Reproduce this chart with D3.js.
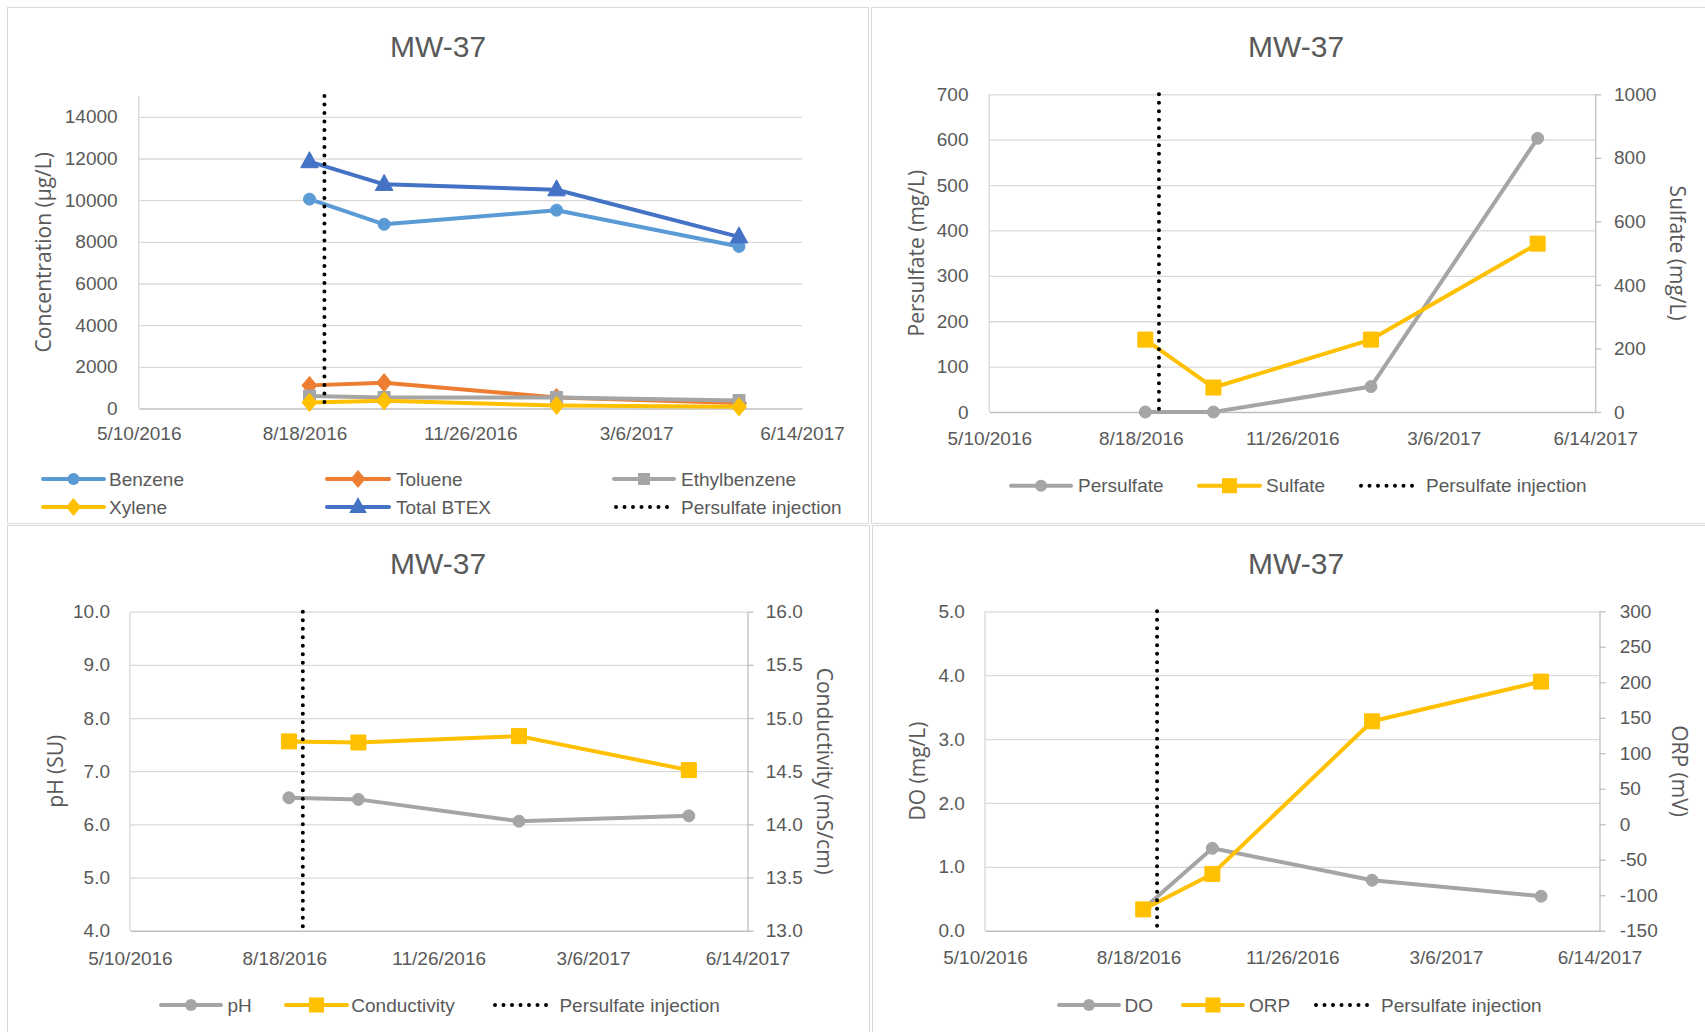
<!DOCTYPE html>
<html>
<head>
<meta charset="utf-8">
<script src="https://cdn.jsdelivr.net/npm/d3@7"></script>
<style>
  html, body { margin: 0; padding: 0; background: #fff; }
  svg { display: block; }
</style>
</head>
<body>
<svg id="chart" width="1705" height="1032"></svg>
<script>
// ---------------- DATA ----------------
const sampleDates = ["8/21/2016", "10/5/2016", "1/17/2017", "5/7/2017"];
const injectionDate = "8/30/2016";
const xDomain = ["5/10/2016", "6/14/2017"];
const xTickLabels = ["5/10/2016", "8/18/2016", "11/26/2016", "3/6/2017", "6/14/2017"];

const benzene = [10050, 8840, 9520, 7780];
const toluene = [1110, 1240, 530, 260];
const ethylbenzene = [600, 530, 530, 380];
const xylene = [290, 370, 145, 80];
const totalBTEX = [11850, 10760, 10500, 8240];

const persulfate = [0, 0, 56, 603];
const sulfate = [228, 77, 228, 530];

const pH = [6.50, 6.47, 6.06, 6.16];
const conductivity = [14.78, 14.77, 14.83, 14.51];

const dissolvedOxygen = [0.34, 1.29, 0.79, 0.54];
const orp = [-120, -70, 145, 201];

const concTicks = [0, 2000, 4000, 6000, 8000, 10000, 12000, 14000];
const persulfateTicks = [0, 100, 200, 300, 400, 500, 600, 700];
const sulfateTicks = [0, 200, 400, 600, 800, 1000];
const pHTicks = [4, 5, 6, 7, 8, 9, 10];
const condTicks = [13, 13.5, 14, 14.5, 15, 15.5, 16];
const doTicks = [0, 1, 2, 3, 4, 5];
const orpTicks = [-150, -100, -50, 0, 50, 100, 150, 200, 250, 300];

// ---------------- STYLE ----------------
const TXT = "#595959";
const GRID = "#D9D9D9";
const AXIS = "#BFBFBF";
const C_BENZ = "#5B9BD5", C_TOL = "#ED7D31", C_GRAY = "#A5A5A5", C_YEL = "#FFC000", C_BTEX = "#4472C4";
const FONT = "'Liberation Sans', Arial, sans-serif";
const TITLEFONT = "'Open Sans', 'DejaVu Sans', sans-serif";

const locale = d3.formatLocale({decimal: ".", thousands: ",", grouping: [3], currency: ["$", ""], minus: "-"});
const fmt1 = locale.format(".1f");
const fmt0 = locale.format("d");

const parse = d3.utcParse("%m/%d/%Y");
const dates = sampleDates.map(parse);
const injDate = parse(injectionDate);

const svg = d3.select("#chart");

// panel frames
const panels = [
  {x: 7.5, y: 7.5, w: 861, h: 516},
  {x: 871.5, y: 7.5, w: 850, h: 516},
  {x: 7.5, y: 525.5, w: 862, h: 520},
  {x: 872.5, y: 525.5, w: 850, h: 520}
];
svg.selectAll("rect.panel").data(panels).join("rect")
  .attr("class", "panel")
  .attr("x", d => d.x).attr("y", d => d.y).attr("width", d => d.w).attr("height", d => d.h)
  .attr("fill", "#fff").attr("stroke", GRID).attr("stroke-width", 1);

// marker path generators
function markerPath(type, size) {
  const s = size;
  if (type === "circle") return d3.symbol(d3.symbolCircle, s * s * Math.PI / 4)();
  if (type === "square") return `M${-s/2},${-s/2}h${s}v${s}h${-s}z`;
  if (type === "diamond") return `M0,${-s*0.6}L${s*0.5},0L0,${s*0.6}L${-s*0.5},0z`;
  if (type === "triangle") return `M0,${-s*0.62}L${s*0.55},${s*0.38}L${-s*0.55},${s*0.38}z`;
  return "";
}

function drawChart(cfg) {
  const g = svg.append("g");
  const p = cfg.plot;
  const x = d3.scaleUtc().domain(xDomain.map(parse)).range([p.l, p.r]);
  const yL = d3.scaleLinear().domain(cfg.yL.domain).range([p.b, p.t]);
  const yR = cfg.yR ? d3.scaleLinear().domain(cfg.yR.domain).range([p.b, p.t]) : null;

  // gridlines
  g.append("g")
    .attr("transform", `translate(${p.l},0)`)
    .call(d3.axisLeft(yL).tickValues(cfg.yL.ticks.filter(v => v !== cfg.yL.domain[0])).tickSize(-(p.r - p.l)).tickFormat(""))
    .call(a => a.select(".domain").remove())
    .call(a => a.selectAll("line").attr("stroke", GRID).attr("stroke-width", 1.3));

  // left axis line
  g.append("line").attr("x1", p.l).attr("x2", p.l).attr("y1", p.t).attr("y2", p.b)
    .attr("stroke", GRID).attr("stroke-width", 1.3);

  // left tick labels
  const la = g.append("g")
    .attr("transform", `translate(${p.l},0)`)
    .call(d3.axisLeft(yL).tickValues(cfg.yL.ticks).tickSize(0).tickPadding(p.l - cfg.yL.labelX).tickFormat(cfg.yL.format));
  la.select(".domain").remove();
  la.selectAll("text").attr("fill", TXT).style("font-family", FONT).style("font-size", "19px");

  // right axis
  if (yR) {
    const ra = g.append("g")
      .attr("transform", `translate(${p.r},0)`)
      .call(d3.axisRight(yR).tickValues(cfg.yR.ticks).tickSizeInner(6).tickSizeOuter(0)
        .tickPadding(cfg.yR.labelX - p.r - 6).tickFormat(cfg.yR.format));
    ra.select(".domain").attr("stroke", AXIS).attr("stroke-width", 1.3);
    ra.selectAll("line").attr("stroke", AXIS).attr("stroke-width", 1.3);
    ra.selectAll("text").attr("fill", TXT).style("font-family", FONT).style("font-size", "19px");
  }

  // bottom axis
  const ba = g.append("g")
    .attr("transform", `translate(0,${p.b})`)
    .call(d3.axisBottom(x).tickValues(xTickLabels.map(parse)).tickSize(0)
      .tickPadding(cfg.xLabelY - p.b).tickFormat((d, i) => xTickLabels[i]));
  ba.select(".domain").attr("stroke", AXIS).attr("stroke-width", 1.5);
  ba.selectAll("text").attr("dy", "0.35em").attr("fill", TXT).style("font-family", FONT).style("font-size", "19px");

  // series
  cfg.series.forEach(s => {
    const y = s.axis === "R" ? yR : yL;
    const pts = s.values.map((v, i) => [x(dates[i]), y(v)]);
    g.append("path").attr("d", d3.line()(pts)).attr("fill", "none")
      .attr("stroke", s.color).attr("stroke-width", 4).attr("stroke-linejoin", "round").attr("stroke-linecap", "round");
    g.selectAll(null).data(pts).join("path")
      .attr("transform", d => `translate(${d[0]},${d[1]})`)
      .attr("d", markerPath(s.marker, s.size))
      .attr("fill", s.color).attr("stroke", s.color).attr("stroke-width", 1);
  });

  // injection line
  g.append("line")
    .attr("x1", x(injDate)).attr("x2", x(injDate))
    .attr("y1", yL(cfg.yL.domain[1])).attr("y2", yL(cfg.yL.domain[0]))
    .attr("stroke", "#000").attr("stroke-width", 4).attr("stroke-linecap", "round")
    .attr("stroke-dasharray", "0 8.5");

  // title
  g.append("text").attr("x", cfg.title.x).attr("y", cfg.title.y).attr("dy", "0.35em")
    .attr("text-anchor", "middle").attr("fill", TXT)
    .style("font-family", FONT).style("font-size", "30px").text("MW-37");

  // axis titles
  const mid = (p.t + p.b) / 2;
  g.append("text").attr("transform", `translate(${cfg.yL.titleX},${mid}) rotate(-90)`)
    .attr("dy", "0.35em").attr("text-anchor", "middle").attr("fill", TXT)
    .style("font-family", TITLEFONT).style("font-size", "21px").text(cfg.yL.title);
  if (yR) {
    g.append("text").attr("transform", `translate(${cfg.yR.titleX},${mid}) rotate(90)`)
      .attr("dy", "0.35em").attr("text-anchor", "middle").attr("fill", TXT)
      .style("font-family", TITLEFONT).style("font-size", "21px").text(cfg.yR.title);
  }

  // legend
  cfg.legend.forEach(item => {
    const lg = g.append("g");
    if (item.dotted) {
      lg.append("line").attr("x1", item.x0 + 2).attr("x2", item.x1).attr("y1", item.y).attr("y2", item.y)
        .attr("stroke", "#000").attr("stroke-width", 4).attr("stroke-linecap", "round").attr("stroke-dasharray", "0 8.5");
    } else {
      lg.append("line").attr("x1", item.x0).attr("x2", item.x1).attr("y1", item.y).attr("y2", item.y)
        .attr("stroke", item.color).attr("stroke-width", 4).attr("stroke-linecap", "round");
      lg.append("path").attr("transform", `translate(${(item.x0 + item.x1) / 2},${item.y})`)
        .attr("d", markerPath(item.marker, item.size)).attr("fill", item.color);
    }
    lg.append("text").attr("x", item.tx).attr("y", item.y).attr("dy", "0.35em").attr("fill", TXT)
      .style("font-family", FONT).style("font-size", "19px").text(item.label);
  });
}

const M = {circle: 12, square: 15, diamond: 15, triangle: 16};

// Chart 1: BTEX
drawChart({
  plot: {l: 138.7, r: 802, t: 96, b: 408.5},
  title: {x: 438, y: 46.7},
  xLabelY: 433.3,
  yL: {domain: [0, 15000], ticks: concTicks, format: fmt0, labelX: 117.6, title: "Concentration (µg/L)", titleX: 44},
  series: [
    {values: benzene, color: C_BENZ, marker: "circle", size: M.circle},
    {values: toluene, color: C_TOL, marker: "diamond", size: M.diamond},
    {values: ethylbenzene, color: C_GRAY, marker: "square", size: 12},
    {values: xylene, color: C_YEL, marker: "diamond", size: M.diamond},
    {values: totalBTEX, color: C_BTEX, marker: "triangle", size: M.triangle}
  ],
  legend: [
    {label: "Benzene", color: C_BENZ, marker: "circle", size: M.circle, x0: 43, x1: 104, tx: 109, y: 479},
    {label: "Toluene", color: C_TOL, marker: "diamond", size: M.diamond, x0: 327, x1: 389, tx: 396, y: 479},
    {label: "Ethylbenzene", color: C_GRAY, marker: "square", size: 12, x0: 614, x1: 674, tx: 681, y: 479},
    {label: "Xylene", color: C_YEL, marker: "diamond", size: M.diamond, x0: 43, x1: 104, tx: 109, y: 507},
    {label: "Total BTEX", color: C_BTEX, marker: "triangle", size: M.triangle, x0: 327, x1: 389, tx: 396, y: 507},
    {label: "Persulfate injection", dotted: true, x0: 614, x1: 668, tx: 681, y: 507}
  ]
});

// Chart 2: Persulfate / Sulfate
drawChart({
  plot: {l: 989.3, r: 1595.2, t: 94.3, b: 412},
  title: {x: 1296, y: 46.7},
  xLabelY: 438,
  yL: {domain: [0, 700], ticks: persulfateTicks, format: fmt0, labelX: 968.5, title: "Persulfate (mg/L)", titleX: 917},
  yR: {domain: [0, 1000], ticks: sulfateTicks, format: fmt0, labelX: 1614, title: "Sulfate (mg/L)", titleX: 1677},
  series: [
    {values: persulfate, color: C_GRAY, marker: "circle", size: M.circle},
    {values: sulfate, color: C_YEL, marker: "square", size: M.square, axis: "R"}
  ],
  legend: [
    {label: "Persulfate", color: C_GRAY, marker: "circle", size: M.circle, x0: 1011, x1: 1071, tx: 1078, y: 485.7},
    {label: "Sulfate", color: C_YEL, marker: "square", size: M.square, x0: 1199, x1: 1260, tx: 1266, y: 485.7},
    {label: "Persulfate injection", dotted: true, x0: 1359, x1: 1413, tx: 1426, y: 485.7}
  ]
});

// Chart 3: pH / Conductivity
drawChart({
  plot: {l: 129.9, r: 747.5, t: 611.7, b: 930.7},
  title: {x: 438, y: 563.3},
  xLabelY: 958.3,
  yL: {domain: [4, 10], ticks: pHTicks, format: fmt1, labelX: 110, title: "pH (SU)", titleX: 55.5},
  yR: {domain: [13, 16], ticks: condTicks, format: fmt1, labelX: 765.8, title: "Conductivity (mS/cm)", titleX: 824},
  series: [
    {values: pH, color: C_GRAY, marker: "circle", size: M.circle},
    {values: conductivity, color: C_YEL, marker: "square", size: M.square, axis: "R"}
  ],
  legend: [
    {label: "pH", color: C_GRAY, marker: "circle", size: M.circle, x0: 161, x1: 221, tx: 227.5, y: 1005},
    {label: "Conductivity", color: C_YEL, marker: "square", size: M.square, x0: 286, x1: 347, tx: 351.3, y: 1005},
    {label: "Persulfate injection", dotted: true, x0: 493, x1: 547, tx: 559.4, y: 1005}
  ]
});

// Chart 4: DO / ORP
drawChart({
  plot: {l: 985, r: 1599.5, t: 611.3, b: 930.7},
  title: {x: 1296, y: 563.3},
  xLabelY: 957.3,
  yL: {domain: [0, 5], ticks: doTicks, format: fmt1, labelX: 964.8, title: "DO (mg/L)", titleX: 918},
  yR: {domain: [-150, 300], ticks: orpTicks, format: fmt0, labelX: 1619.7, title: "ORP (mV)", titleX: 1679},
  series: [
    {values: dissolvedOxygen, color: C_GRAY, marker: "circle", size: M.circle},
    {values: orp, color: C_YEL, marker: "square", size: M.square, axis: "R"}
  ],
  legend: [
    {label: "DO", color: C_GRAY, marker: "circle", size: M.circle, x0: 1059, x1: 1119, tx: 1124.5, y: 1005},
    {label: "ORP", color: C_YEL, marker: "square", size: M.square, x0: 1183, x1: 1243, tx: 1249, y: 1005},
    {label: "Persulfate injection", dotted: true, x0: 1314, x1: 1368, tx: 1381, y: 1005}
  ]
});
</script>
</body>
</html>
